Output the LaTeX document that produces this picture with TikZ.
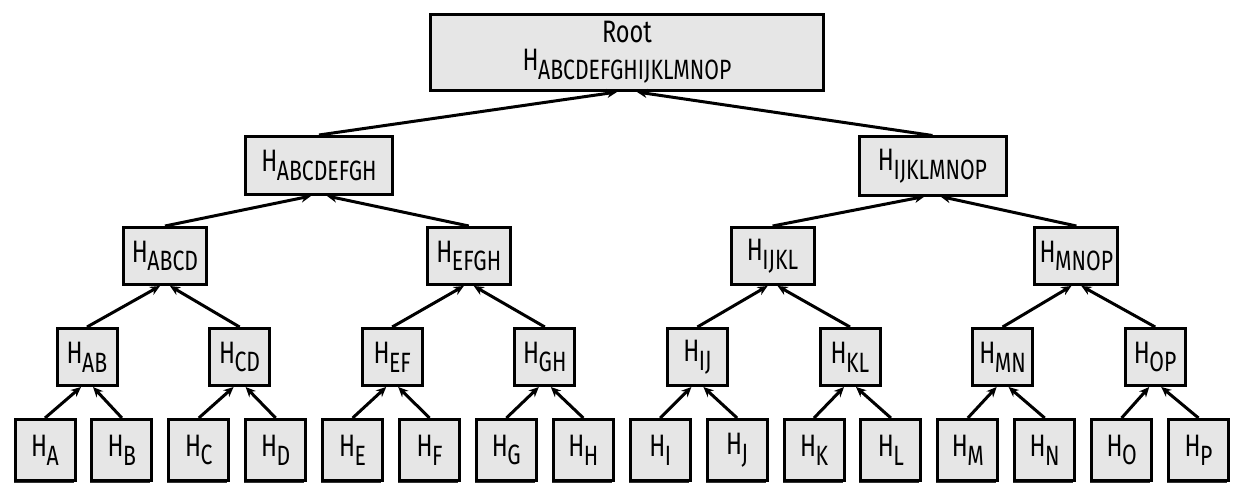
\documentclass[tikz,border=0pt]{standalone}
\usepackage{fontspec}
\setmainfont{Fira Sans}[FakeStretch=0.76]
\usetikzlibrary{arrows.meta,shadows}
\newfontfamily\subfnt{Fira Sans}[FakeStretch=0.76,Scale=0.9]
\newcommand\hsub[1]{H\kern-0.5pt\raisebox{-0.28em}{\subfnt #1}}
\definecolor{boxfill}{HTML}{E6E6E6}
\tikzset{
  hbox/.style={draw=black, fill=boxfill, line width=3pt, inner sep=0pt,
    font=\fontsize{31}{34}\selectfont},
  leaf/.style={hbox, minimum width=60pt, minimum height=61pt,
    drop shadow={shadow xshift=-1.5pt, shadow yshift=-2pt, fill=black!80, opacity=1}},
  lvone/.style={hbox, minimum width=60pt, minimum height=57pt},
  lvtwo/.style={hbox, minimum width=83pt, minimum height=57pt},
  lvthree/.style={hbox, minimum width=147pt, minimum height=58pt},
  rootbox/.style={hbox, minimum width=393pt, minimum height=76pt, align=center},
  arr/.style={line width=3pt, -{Stealth[length=10pt,width=9pt]}},
}
\begin{document}
\begin{tikzpicture}[x=1pt,y=-1pt]
\useasboundingbox (0,0) rectangle (1242,492);
% leaves
\foreach \lab [count=\i from 0] in {A,B,C,D,E,F,G,H,I,J,K,L,M,N,O,P}{
  \node[leaf] (L\i) at ({45+76.9*\i},450) {\hsub{\lab}};
}
% level one
\foreach \lab [count=\i from 0] in {AB,CD,EF,GH,IJ,KL,MN,OP}{
  \node[lvone] (A\i) at ({87+152.6*\i},357) {\hsub{\lab}};
}
% level two
\foreach \lab [count=\i from 0] in {ABCD,EFGH,IJKL,MNOP}{
  \node[lvtwo] (B\i) at ({165+303.8*\i},256) {\hsub{\lab}};
}
% level three
\node[lvthree] (C0) at (319,165.5) {\hsub{ABCDEFGH}};
\node[lvthree] (C1) at (932.5,166) {\hsub{IJKLMNOP}};
% root
\node[rootbox] (R) at (627,52.5) {Root\\[-6pt]\hsub{ABCDEFGHIJKLMNOP}};
% connectors
\foreach \j in {0,...,7}{
  \pgfmathtruncatemacro\ca{2*\j}
  \pgfmathtruncatemacro\cb{2*\j+1}
  \draw[arr] (L\ca.north) -- ([xshift=-6pt]A\j.south);
  \draw[arr] (L\cb.north) -- ([xshift=6pt]A\j.south);
}
\foreach \k in {0,...,3}{
  \pgfmathtruncatemacro\ca{2*\k}
  \pgfmathtruncatemacro\cb{2*\k+1}
  \draw[arr] (A\ca.north) -- ([xshift=-5pt]B\k.south);
  \draw[arr] (A\cb.north) -- ([xshift=5pt]B\k.south);
}
\draw[arr] (B0.north) -- ([xshift=-8pt]C0.south);
\draw[arr] (B1.north) -- ([xshift=8pt]C0.south);
\draw[arr] (B2.north) -- ([xshift=-8pt]C1.south);
\draw[arr] (B3.north) -- ([xshift=8pt]C1.south);
\draw[arr] (C0.north) -- ([xshift=-10pt]R.south);
\draw[arr] (C1.north) -- ([xshift=10pt]R.south);
\end{tikzpicture}
\end{document}
